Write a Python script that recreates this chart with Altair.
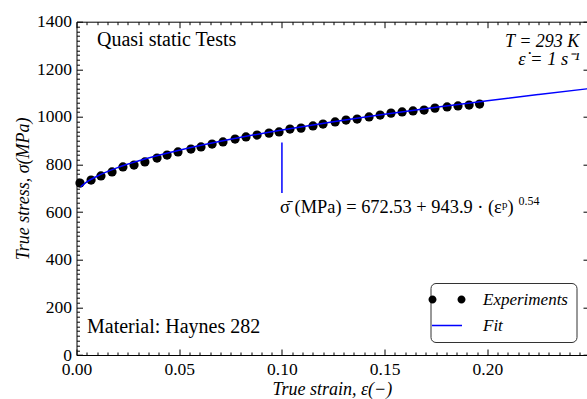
import altair as alt
import pandas as pd

# ---------------- data ----------------
strain = [0.0017, 0.0071, 0.0119, 0.0173, 0.0226, 0.0280, 0.0333, 0.0392, 0.0441, 0.0494,
          0.0557, 0.0606, 0.0660, 0.0713, 0.0772, 0.0825, 0.0879, 0.0937, 0.0986, 0.1039,
          0.1093, 0.1151, 0.1200, 0.1259, 0.1312, 0.1366, 0.1424, 0.1478, 0.1531, 0.1585,
          0.1638, 0.1692, 0.1745, 0.1804, 0.1857, 0.1911, 0.1962]
stress = [722, 735, 752, 769, 790, 798, 811, 827, 840, 853,
          865, 874, 886, 895, 907, 916, 924, 932, 937, 949,
          953, 962, 970, 979, 987, 991, 1000, 1008, 1016, 1021,
          1025, 1029, 1037, 1042, 1046, 1050, 1054]

fit_strain = [0.002, 0.005, 0.01, 0.02, 0.03, 0.05, 0.075, 0.1, 0.125, 0.15, 0.175, 0.2, 0.225, 0.2485]
fit_stress = [706, 727, 751, 787, 815, 860, 906, 945, 980, 1011, 1041, 1068, 1094, 1118]

series_names = ["Experiments", "Fit"]
series_colors = ["black", "blue"]

x_major = [0.0, 0.05, 0.10, 0.15, 0.20]
x_minor = [round(i * 0.005, 3) for i in range(50)]
y_major = [0, 200, 400, 600, 800, 1000, 1200, 1400]
y_minor = list(range(0, 1401, 20))

# ---------------- layout ----------------
W, H = 510.5, 333.3
X_MAX = 0.2485
FONT = "Liberation Serif"

exp_df = pd.DataFrame({"strain": strain, "stress": stress})
fit_df = pd.DataFrame({"strain": fit_strain, "stress": fit_stress})
rule_df = pd.DataFrame({"x": [0.1], "y1": [680], "y2": [893]})
legend_df = pd.DataFrame({"series": series_names, "x": [-1, -1], "y": [-1, -1]})

xs = alt.Scale(domain=[0, X_MAX], nice=False, zero=False)
ys = alt.Scale(domain=[0, 1400], nice=False, zero=False)

x_tick_size = {"condition": {"test": "abs(datum.value*20 - round(datum.value*20)) < 0.0001", "value": 6}, "value": 3}
y_tick_size = {"condition": {"test": "datum.value % 200 == 0", "value": 6}, "value": 3}


def inner_axis(orient, values, size, offset, domain=False):
    return alt.Axis(orient=orient, offset=offset, values=values, labels=False,
                    domain=domain, domainColor="black", domainWidth=1, grid=False,
                    ticks=True, tickSize=size, tickColor="black", tickWidth=1, title=None)


main_x_axis = alt.Axis(orient="bottom", values=x_major, format=".2f", ticks=False, tickSize=0,
                       domain=True, domainColor="black", domainWidth=1, grid=False,
                       labelFont=FONT, labelFontSize=17.5, labelColor="black", labelPadding=5,
                       labelFlush=False, labelOverlap=False,
                       title="True strain, ε(−)", titleFont=FONT, titleFontSize=18,
                       titleFontStyle="italic", titleFontWeight="normal", titleColor="black",
                       titlePadding=3)
main_y_axis = alt.Axis(orient="left", values=y_major, format="d", ticks=False, tickSize=0,
                       domain=True, domainColor="black", domainWidth=1, grid=False,
                       labelFont=FONT, labelFontSize=17.5, labelColor="black", labelPadding=5,
                       labelFlush=False, labelOverlap=False,
                       title="True stress, σ(MPa)", titleFont=FONT, titleFontSize=18,
                       titleFontStyle="italic", titleFontWeight="normal", titleColor="black",
                       titlePadding=4)

points = alt.Chart(exp_df).mark_circle(size=85, color="black", opacity=1).encode(
    x=alt.X("strain:Q", scale=xs, axis=main_x_axis),
    y=alt.Y("stress:Q", scale=ys, axis=main_y_axis),
)

fit = alt.Chart(fit_df).mark_line(color="blue", strokeWidth=1.5, interpolate="monotone").encode(
    x=alt.X("strain:Q", scale=xs, axis=inner_axis("top", x_minor, x_tick_size, -H)),
    y=alt.Y("stress:Q", scale=ys, axis=inner_axis("right", y_minor, y_tick_size, -W)),
)

rule = alt.Chart(rule_df).mark_rule(color="blue", strokeWidth=1.5).encode(
    x=alt.X("x:Q", scale=xs, axis=inner_axis("bottom", x_minor, x_tick_size, -H, domain=True)),
    y=alt.Y("y1:Q", scale=ys, axis=inner_axis("left", y_major, 4, -W)),
    y2="y2:Q",
)


def text_layer(x, y, text, size=18, style="normal", align="left"):
    df = pd.DataFrame({"x": [x], "y": [y], "t": [text]})
    return alt.Chart(df).mark_text(font=FONT, fontSize=size, fontStyle=style, align=align,
                                   baseline="alphabetic", color="black").encode(
        x=alt.X("x:Q", scale=xs, axis=None),
        y=alt.Y("y:Q", scale=ys, axis=None),
        text="t:N",
    )


t_quasi = text_layer(0.0100, 1298, "Quasi static Tests", 20)
t_mat = text_layer(0.0051, 92, "Material: Haynes 282", 20)
t_T = text_layer(0.2086, 1294, "T = 293 K", 18, "italic")
t_rate = text_layer(0.2150, 1218, "ε̇ = 1 s⁻¹", 18.5, "italic")
t_eq = text_layer(0.0991, 596, "σ̄ (MPa) = 672.53 + 943.9 · (εᵖ)", 18.4)
t_pow = text_layer(0.2152, 630, "0.54", 12)

# legend symbols: two dots for experiments, a short line for the fit
# (path units: 1 unit = sqrt(symbolSize)/2 = 4 px)
u_dot = "M -4.625 0 A 1 1 0 1 0 -2.625 0 A 1 1 0 1 0 -4.625 0 Z " \
        "M 2.625 0 A 1 1 0 1 0 4.625 0 A 1 1 0 1 0 2.625 0 Z"
u_line = "M -3.75 -0.19 L 3.75 -0.19 L 3.75 0.19 L -3.75 0.19 Z"

leg = alt.Legend(title=None, orient="none", legendX=354, legendY=261.3,
                 labelFont=FONT, labelFontSize=17, labelFontStyle="italic", labelColor="black",
                 symbolSize=64, symbolStrokeWidth=0, symbolOpacity=1,
                 strokeColor="#333333", fillColor="white", cornerRadius=5, padding=8,
                 rowPadding=8, labelOffset=27.5)

legend_layer = alt.Chart(legend_df).mark_point(filled=True, clip=True, opacity=1).encode(
    x=alt.X("x:Q", scale=xs, axis=None),
    y=alt.Y("y:Q", scale=ys, axis=None),
    color=alt.Color("series:N", scale=alt.Scale(domain=series_names, range=series_colors), legend=leg),
    shape=alt.Shape("series:N", scale=alt.Scale(domain=series_names, range=[u_dot, u_line]), legend=leg),
)

chart = alt.layer(points, fit, rule, t_quasi, t_mat, t_T, t_rate, t_eq, t_pow, legend_layer).resolve_scale(
    x="shared", y="shared"
).resolve_axis(
    x="independent", y="independent"
).properties(
    width=W, height=H,
    autosize=alt.AutoSizeParams(type="none"),
    padding={"left": 76.5, "top": 21.7, "right": 0, "bottom": 44},
    background="white",
).configure_view(stroke=None).configure_axis(labelFont=FONT, titleFont=FONT)

chart.save("out.html", embed_options={"renderer": "svg", "actions": False})
